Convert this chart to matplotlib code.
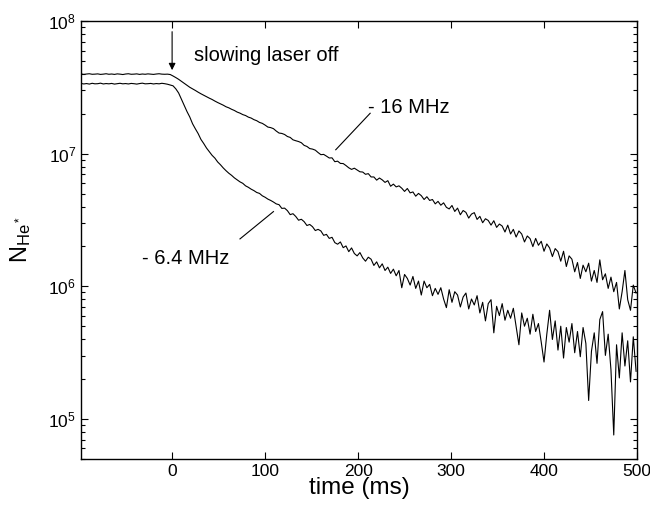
import matplotlib
matplotlib.use("Agg")
import matplotlib.pyplot as plt
import numpy as np
from matplotlib.ticker import LogLocator, NullFormatter, FixedLocator

plt.rcParams['font.family'] = ['Liberation Sans', 'DejaVu Sans']
plt.rcParams['mathtext.fontset'] = 'custom'
plt.rcParams['mathtext.rm'] = 'Liberation Sans'
plt.rcParams['mathtext.it'] = 'Liberation Sans:italic'

# sample times (ms), 3 ms apart
t_start, t_step = -98, 3

# log10 of N_He*, detuning -16 MHz
log_n_16 = [
    7.602, 7.598, 7.601, 7.603, 7.599, 7.600, 7.602, 7.598, 7.600, 7.603, 7.599,
    7.601, 7.598, 7.602, 7.600, 7.597, 7.601, 7.603, 7.599, 7.600, 7.602, 7.598,
    7.601, 7.599, 7.602, 7.600, 7.598, 7.601, 7.603, 7.600, 7.599, 7.600, 7.597,
    7.586, 7.574, 7.561, 7.546, 7.531, 7.515, 7.501, 7.489, 7.477, 7.464, 7.452,
    7.441, 7.430, 7.419, 7.409, 7.397, 7.386, 7.376, 7.366, 7.354, 7.346, 7.335,
    7.326, 7.314, 7.306, 7.295, 7.288, 7.276, 7.269, 7.257, 7.249, 7.236, 7.229,
    7.216, 7.201, 7.197, 7.189, 7.171, 7.156, 7.153, 7.145, 7.130, 7.123, 7.105,
    7.098, 7.092, 7.083, 7.063, 7.055, 7.039, 7.035, 7.027, 7.009, 6.993, 6.995,
    6.982, 6.968, 6.969, 6.940, 6.944, 6.927, 6.926, 6.911, 6.894, 6.882, 6.891,
    6.877, 6.864, 6.862, 6.845, 6.850, 6.825, 6.825, 6.801, 6.817, 6.803, 6.784,
    6.797, 6.755, 6.771, 6.750, 6.758, 6.740, 6.716, 6.738, 6.705, 6.712, 6.680,
    6.701, 6.684, 6.655, 6.676, 6.648, 6.655, 6.622, 6.641, 6.612, 6.630, 6.596,
    6.584, 6.610, 6.565, 6.590, 6.540, 6.572, 6.558, 6.515, 6.545, 6.556, 6.505,
    6.528, 6.480, 6.510, 6.497, 6.462, 6.495, 6.445, 6.470, 6.455, 6.410, 6.462,
    6.395, 6.430, 6.372, 6.418, 6.395, 6.335, 6.380, 6.360, 6.300, 6.362, 6.310,
    6.340, 6.265, 6.320, 6.290, 6.225, 6.285, 6.262, 6.190, 6.265, 6.150, 6.230,
    6.205, 6.110, 6.180, 6.060, 6.160, 6.110, 6.175, 6.040, 6.120, 6.030, 6.200,
    6.050, 6.095, 5.985, 6.070, 5.960, 6.030, 5.830, 5.960, 6.120, 5.900, 5.820,
    6.010, 5.950,
]

# log10 of N_He*, detuning -6.4 MHz
log_n_64 = [
    7.530, 7.526, 7.529, 7.525, 7.531, 7.527, 7.528, 7.532, 7.526, 7.529, 7.527,
    7.530, 7.525, 7.528, 7.531, 7.527, 7.529, 7.526, 7.530, 7.528, 7.525, 7.529,
    7.532, 7.527, 7.528, 7.530, 7.526, 7.529, 7.527, 7.531, 7.528, 7.524, 7.518,
    7.512, 7.489, 7.458, 7.412, 7.366, 7.318, 7.277, 7.226, 7.188, 7.152, 7.108,
    7.077, 7.043, 7.016, 6.988, 6.967, 6.938, 6.917, 6.893, 6.872, 6.853, 6.837,
    6.818, 6.803, 6.788, 6.777, 6.758, 6.747, 6.733, 6.722, 6.708, 6.701, 6.683,
    6.672, 6.658, 6.648, 6.636, 6.622, 6.616, 6.588, 6.590, 6.571, 6.541, 6.548,
    6.527, 6.499, 6.506, 6.488, 6.459, 6.467, 6.450, 6.421, 6.430, 6.418, 6.385,
    6.392, 6.362, 6.370, 6.330, 6.318, 6.335, 6.292, 6.305, 6.262, 6.290, 6.248,
    6.230, 6.255, 6.215, 6.190, 6.220, 6.205, 6.158, 6.185, 6.140, 6.170, 6.120,
    6.145, 6.098, 6.130, 6.080, 6.120, 5.990, 6.090, 6.060, 6.010, 6.075, 5.985,
    6.040, 5.935, 6.040, 5.990, 6.015, 5.930, 5.985, 5.940, 5.990, 5.905, 5.840,
    5.975, 5.880, 5.960, 5.935, 5.845, 5.920, 5.950, 5.830, 5.905, 5.860, 5.930,
    5.800, 5.880, 5.740, 5.870, 5.900, 5.650, 5.850, 5.780, 5.870, 5.745, 5.820,
    5.760, 5.835, 5.700, 5.560, 5.800, 5.700, 5.760, 5.640, 5.790, 5.660, 5.720,
    5.580, 5.430, 5.640, 5.820, 5.600, 5.740, 5.520, 5.700, 5.460, 5.690, 5.580,
    5.720, 5.500, 5.660, 5.470, 5.690, 5.570, 5.140, 5.510, 5.650, 5.420, 5.750,
    5.810, 5.480, 5.640, 5.370, 4.880, 5.560, 5.310, 5.650, 5.400, 5.590, 5.280,
    5.620, 5.360,
]

x_ticks = [0, 100, 200, 300, 400, 500]
y_ticks = [1e5, 1e6, 1e7, 1e8]

fig = plt.figure(figsize=(6.5, 5.14), dpi=100)
ax = fig.add_axes([0.1246, 0.107, 0.8554, 0.852])

for vals in (log_n_16, log_n_64):
    t = t_start + t_step * np.arange(len(vals))
    ax.plot(t, 10 ** np.array(vals), color='black', lw=0.8)

ax.set_yscale('log')
ax.set_xlim(-98, 500)
ax.set_ylim(5e4, 1e8)
ax.xaxis.set_major_locator(FixedLocator(x_ticks))
ax.yaxis.set_major_locator(FixedLocator(y_ticks))
ax.yaxis.set_minor_locator(LogLocator(base=10, subs=np.arange(2, 10)))
ax.yaxis.set_minor_formatter(NullFormatter())
ax.tick_params(which='both', direction='in', top=True, right=True, width=0.8)
ax.tick_params(which='major', length=5, labelsize=12.5)
ax.tick_params(which='minor', length=3)
for s in ax.spines.values():
    s.set_linewidth(1.0)

ax.set_xlabel('time (ms)', fontsize=17.5, labelpad=-1)
ax.set_ylabel(r'$\mathregular{N_{He^*}}$', fontsize=17, labelpad=11)

# annotations
ax.annotate('', xy=(0, 10 ** 7.63), xytext=(0, 10 ** 7.92),
            arrowprops=dict(arrowstyle='-|>', color='black', lw=0.8,
                            mutation_scale=10, shrinkA=0, shrinkB=0))
ax.text(24, 10 ** 7.744, 'slowing laser off', fontsize=14.5, va='center', ha='left')
ax.plot([176, 213], [10 ** 7.03, 10 ** 7.305], color='black', lw=0.8)
ax.text(211, 10 ** 7.345, '- 16 MHz', fontsize=14.5, va='center', ha='left')
ax.plot([73, 109], [10 ** 6.358, 10 ** 6.564], color='black', lw=0.8)
ax.text(-32, 10 ** 6.208, '- 6.4 MHz', fontsize=14.5, va='center', ha='left')

fig.savefig('out.png', dpi=100)
